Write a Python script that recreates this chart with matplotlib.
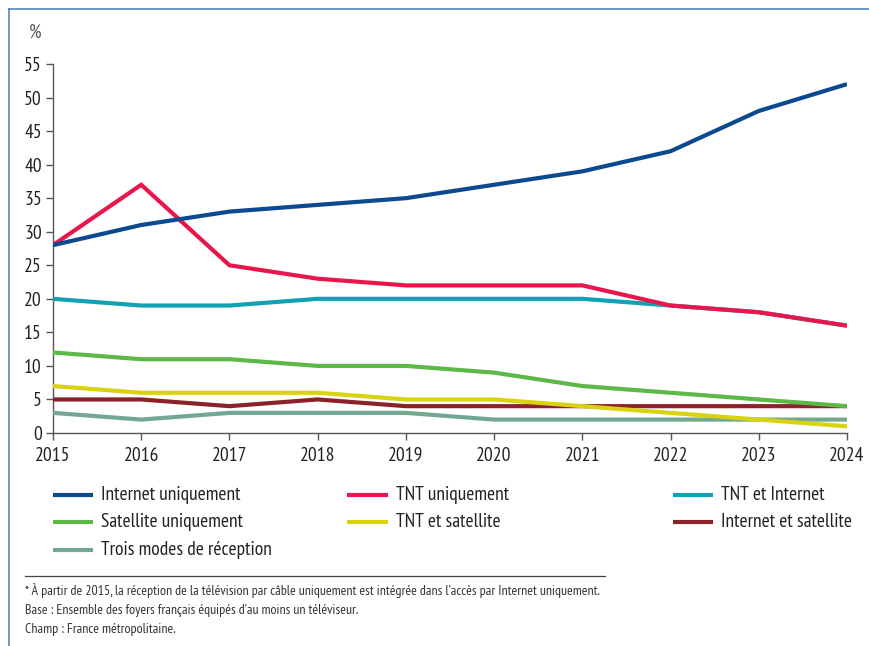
import matplotlib.pyplot as plt
from matplotlib.lines import Line2D
from matplotlib import font_manager as fm

years = [2015, 2016, 2017, 2018, 2019, 2020, 2021, 2022, 2023, 2024]
internet_uniq = [28, 31, 33, 34, 35, 37, 39, 42, 48, 52]
tnt_uniq = [28, 37, 25, 23, 22, 22, 22, 19, 18, 16]
tnt_internet = [20, 19, 19, 20, 20, 20, 20, 19, 18, 16]
satellite_uniq = [12, 11, 11, 10, 10, 9, 7, 6, 5, 4]
tnt_satellite = [7, 6, 6, 6, 5, 5, 4, 3, 2, 1]
internet_satellite = [5, 5, 4, 5, 4, 4, 4, 4, 4, 4]
trois_modes = [3, 2, 3, 3, 3, 2, 2, 2, 2, 2]

series = [
    ('Trois modes de réception', trois_modes, '#72a891'),
    ('Internet et satellite', internet_satellite, '#8c2229'),
    ('TNT et satellite', tnt_satellite, '#d8d20f'),
    ('Satellite uniquement', satellite_uniq, '#5cb947'),
    ('TNT et Internet', tnt_internet, '#10a2b3'),
    ('TNT uniquement', tnt_uniq, '#e8164b'),
    ('Internet uniquement', internet_uniq, '#0b4a8e'),
]
colors = {name: c for name, _, c in series}

# a narrow font close to Myriad Condensed, if one is around
installed = {f.name for f in fm.fontManager.ttflist}
narrow = next((f for f in ['PT Sans Narrow', 'Archivo Narrow', 'Asap Condensed',
                           'Encode Sans Condensed', 'Barlow Semi Condensed'] if f in installed), None)
plt.rcParams['font.family'] = [narrow, 'DejaVu Sans'] if narrow else ['Liberation Sans', 'DejaVu Sans']
txt = '#222222'

fig = plt.figure(figsize=(8.7, 6.46), dpi=100)
ax = fig.add_axes([53/870, 1-433/646, (847-53)/870, (433-64)/646])

for name, vals, c in series:
    ax.plot(years, vals, color=c, lw=3, solid_capstyle='butt', solid_joinstyle='miter', zorder=3)

ax.set_xlim(2015, 2024)
ax.set_ylim(0, 55)
ax.set_xticks(years)
ax.set_yticks(range(0, 56, 5))
for s in ['top', 'right']:
    ax.spines[s].set_visible(False)
for s in ['left', 'bottom']:
    ax.spines[s].set_color('#555555')
    ax.spines[s].set_linewidth(1)
ax.tick_params(axis='both', length=5, width=1, color='#555555', labelsize=14, labelcolor=txt, pad=3)
ax.tick_params(axis='x', pad=5)
ax.patch.set_alpha(0)

fig.text(35/870, 1-33/646, '%', fontsize=14, style='italic', color='#555555', ha='center', va='center')

# frame
fig.add_artist(Line2D([9/870, 1], [1-9/646, 1-9/646], color='#4f86bf', lw=1.2))
fig.add_artist(Line2D([9/870, 9/870], [0, 1-9/646], color='#4f86bf', lw=1.2))

# legend
legend_rows = [
    ['Internet uniquement', 'TNT uniquement', 'TNT et Internet'],
    ['Satellite uniquement', 'TNT et satellite', 'Internet et satellite'],
    ['Trois modes de réception'],
]
col_line_x = [(53, 93), (347, 388), (673, 713)]
row_y = [495, 522, 550]
for r, row in enumerate(legend_rows):
    y = 1 - row_y[r]/646
    for c, name in enumerate(row):
        x0, x1 = col_line_x[c]
        fig.add_artist(Line2D([x0/870, x1/870], [y, y], color=colors[name], lw=3, solid_capstyle='butt'))
        fig.text((x1 + 8)/870, y, name, fontsize=14, color=txt, va='center', ha='left')

# footnote
fig.add_artist(Line2D([25/870, 605/870], [1-576/646, 1-576/646], color='#444444', lw=0.9))
notes = [
    "* À partir de 2015, la réception de la télévision par câble uniquement est intégrée dans l\u2019accès par Internet uniquement.",
    "Base : Ensemble des foyers français équipés d\u2019au moins un téléviseur.",
    "Champ : France métropolitaine.",
]
for i, n in enumerate(notes):
    fig.text(25/870, 1 - (591 + 19.5*i)/646, n, fontsize=10, color='#333333', va='center', ha='left')

fig.savefig('out.png', dpi=100)
